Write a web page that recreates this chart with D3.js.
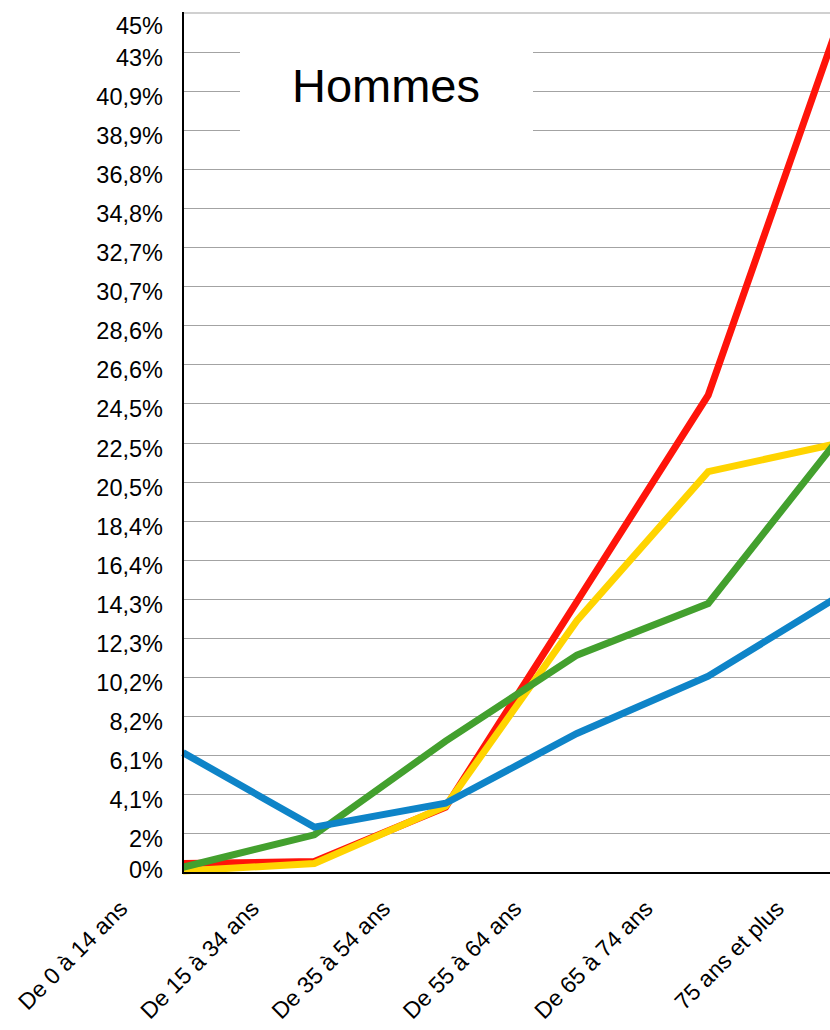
<!DOCTYPE html>
<html>
<head>
<meta charset="utf-8">
<script src="https://cdn.jsdelivr.net/npm/d3@7"></script>
<style>
  html, body { margin: 0; padding: 0; background: #fff; overflow: hidden; }
  svg { display: block; font-family: "Liberation Sans", Arial, Helvetica, sans-serif; }
</style>
</head>
<body>
<svg id="chart" width="830" height="1030"></svg>
<script>
// Age groups on the x axis
const categories = ["De 0 à 14 ans", "De 15 à 34 ans", "De 35 à 54 ans", "De 55 à 64 ans", "De 65 à 74 ans", "75 ans et plus"];

// Share per age group (%), one array per series
const redValues    = [0.5, 0.6, 3.45, 14.2, 25.0, 44.6];
const yellowValues = [0.1, 0.5, 3.5, 13.2, 21.0, 22.5];
const greenValues  = [0.3, 2.0, 6.9, 11.4, 14.1, 22.8];
const blueValues   = [6.3, 2.4, 3.65, 7.3, 10.3, 14.5];

// Y tick labels, evenly spaced from 0 to the maximum
const yMax = 45;
const tickLabels = ["0%", "2%", "4,1%", "6,1%", "8,2%", "10,2%", "12,3%", "14,3%", "16,4%", "18,4%", "20,5%", "22,5%",
  "24,5%", "26,6%", "28,6%", "30,7%", "32,7%", "34,8%", "36,8%", "38,9%", "40,9%", "43%", "45%"];

const series = [
  { name: "rouge", values: redValues,    color: "#ff140a" },
  { name: "jaune", values: yellowValues, color: "#ffd400" },
  { name: "vert",  values: greenValues,  color: "#43a02e" },
  { name: "bleu",  values: blueValues,   color: "#0e84c8" }
];

const svg = d3.select("#chart");
const plotLeft = 183, plotRight = 839.5, plotTop = 13, plotBottom = 873;

const x = d3.scalePoint().domain(categories).range([plotLeft, plotRight]);
const y = d3.scaleLinear().domain([0, yMax]).range([plotBottom, plotTop]);
const tickValues = tickLabels.map((_, i) => i * yMax / (tickLabels.length - 1));

// Horizontal gridlines
svg.append("g")
  .selectAll("line")
  .data(tickValues.slice(1))
  .join("line")
  .attr("x1", plotLeft).attr("x2", 860)
  .attr("y1", d => y(d)).attr("y2", d => y(d))
  .attr("stroke", (d, i, n) => i === n.length - 1 ? "#d0d0d0" : "#a3a3a3")
  .attr("stroke-width", (d, i, n) => i === n.length - 1 ? 2 : 1)
  .attr("shape-rendering", "crispEdges");

// Title box
svg.append("rect")
  .attr("x", 240).attr("y", 16).attr("width", 293).attr("height", 120)
  .attr("fill", "#fff");
svg.append("text")
  .attr("x", 386).attr("y", 102)
  .attr("text-anchor", "middle")
  .attr("font-size", 47)
  .attr("fill", "#000")
  .text("Hommes");

// Series lines
const line = d3.line()
  .x((d, i) => x(categories[i]))
  .y(d => y(d));

svg.append("g")
  .selectAll("path")
  .data(series)
  .join("path")
  .attr("d", d => line(d.values))
  .attr("fill", "none")
  .attr("stroke", d => d.color)
  .attr("stroke-width", 7)
  .attr("stroke-linejoin", "miter");

// Axis lines
svg.append("line")
  .attr("x1", plotLeft).attr("x2", plotLeft)
  .attr("y1", plotTop - 1).attr("y2", plotBottom + 1)
  .attr("stroke", "#000").attr("stroke-width", 2);
svg.append("line")
  .attr("x1", plotLeft - 1).attr("x2", 860)
  .attr("y1", plotBottom).attr("y2", plotBottom)
  .attr("stroke", "#000").attr("stroke-width", 2);

// Y tick labels
const yAxis = d3.axisLeft(y)
  .tickValues(tickValues)
  .tickFormat((d, i) => tickLabels[i])
  .tickSize(0)
  .tickPadding(0);

const yg = svg.append("g")
  .attr("transform", `translate(163,0)`)
  .call(yAxis);
yg.select(".domain").remove();
yg.selectAll(".tick text")
  .attr("font-size", 23.5)
  .attr("font-family", "\"Liberation Sans\", Arial, sans-serif")
  .attr("fill", "#000")
  .attr("dy", (d, i) => {
    const last = tickValues.length - 1;
    const shift = i === 0 ? -4 : (i === last ? 12 : 5);
    return (shift + 8) + "px";
  });

// X category labels, rotated
svg.append("g")
  .selectAll("text")
  .data(categories)
  .join("text")
  .attr("transform", d => `translate(${x(d) - 54},910) rotate(-45)`)
  .attr("text-anchor", "end")
  .attr("font-size", 23)
  .attr("fill", "#000")
  .text(d => d);
</script>
</body>
</html>
